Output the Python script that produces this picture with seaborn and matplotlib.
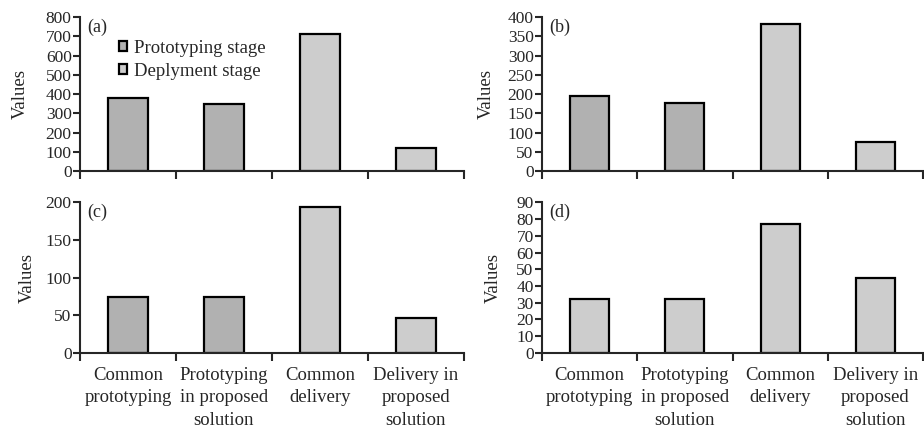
import numpy as np
import pandas as pd
import matplotlib
matplotlib.use('Agg')
import matplotlib.pyplot as plt
import seaborn as sns

sns.set_style('ticks')
plt.rcParams['font.family'] = ['Liberation Serif', 'DejaVu Serif']
plt.rcParams['font.size'] = 13

# categories and values
categories = ['Common\nprototyping', 'Prototyping\nin proposed\nsolution',
              'Common\ndelivery', 'Delivery in\nproposed\nsolution']
values_a = [382, 347, 711, 118]
values_b = [196, 178, 381, 75]
values_c = [74, 74, 194, 46]
values_d = [32, 32, 77, 45]

stages_abc = ['Prototyping stage', 'Prototyping stage', 'Deplyment stage', 'Deplyment stage']
stages_d = ['Deplyment stage'] * 4

palette = {'Prototyping stage': '#b1b1b1', 'Deplyment stage': '#cdcdcd'}

# tag, values, stages, ymax, step, axes rect, ylabel x (axes fraction)
panels = [
    ('(a)', values_a, stages_abc, 800, 100, [0.0866, 0.6005, 0.4155, 0.3595], -0.133),
    ('(b)', values_b, stages_abc, 400, 50, [0.5866, 0.6005, 0.4124, 0.3595], -0.123),
    ('(c)', values_c, stages_abc, 200, 50, [0.0866, 0.176, 0.4155, 0.351], -0.114),
    ('(d)', values_d, stages_d, 90, 10, [0.5866, 0.176, 0.4124, 0.351], -0.105),
]

fig = plt.figure(figsize=(9.24, 4.28), dpi=100)

for i, (tag, vals, stages, ymax, step, rect, ylab_x) in enumerate(panels):
    ax = fig.add_axes(rect)
    df = pd.DataFrame({'category': categories, 'value': vals, 'stage': stages})
    sns.barplot(data=df, x='category', y='value', hue='stage', palette=palette,
                dodge=False, width=0.41, edgecolor='black', linewidth=1.6,
                saturation=1, ax=ax)

    ax.set_xlim(-0.5, 3.5)
    ax.set_ylim(0, ymax)
    ax.set_yticks(np.arange(0, ymax + 1, step))
    ax.set_xticks(range(4))
    if i >= 2:
        ax.set_xticklabels(categories, fontsize=13.5, linespacing=1.45)
    else:
        ax.set_xticklabels([])
    ax.set_xticks(np.arange(-0.5, 4, 1), minor=True)
    ax.tick_params(axis='x', which='major', length=0, pad=10)
    ax.tick_params(axis='x', which='minor', length=6, width=1.5, direction='out')
    ax.tick_params(axis='y', length=5, width=1.5, direction='out', pad=1, labelsize=12.5)

    for side in ['top', 'right']:
        ax.spines[side].set_visible(False)
    for side in ['left', 'bottom']:
        ax.spines[side].set_linewidth(1.5)

    ax.set_xlabel('')
    ax.set_ylabel('Values', fontsize=13.5)
    ax.yaxis.set_label_coords(ylab_x, 0.5)
    ax.text(0.02, 0.99, tag, transform=ax.transAxes, va='top', ha='left', fontsize=13)

    if i == 0:
        handles, labels = ax.get_legend_handles_labels()
        ax.legend(handles, labels, loc='upper left', bbox_to_anchor=(0.077, 0.915),
                  frameon=False, handlelength=0.45, handleheight=0.45,
                  handletextpad=0.35, labelspacing=0.33, borderpad=0, fontsize=13.5)
    else:
        ax.get_legend().remove()

fig.savefig('out.png', dpi=100)
